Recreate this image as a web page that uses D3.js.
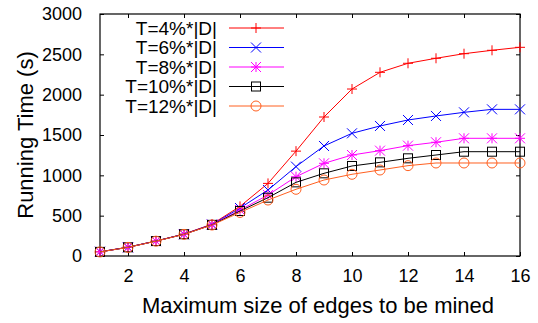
<!DOCTYPE html>
<html>
<head>
<meta charset="utf-8">
<script src="https://cdn.jsdelivr.net/npm/d3@7"></script>
<style>
  body { margin: 0; background: #fff; }
  text { font-family: "Liberation Sans", Arial, sans-serif; fill: #000; }
</style>
</head>
<body>
<div id="chart"></div>
<script>
const sizes = [1, 2, 3, 4, 5, 6, 7, 8, 9, 10, 11, 12, 13, 14, 15, 16];
const t4  = [52, 110, 186, 272, 395, 615, 900, 1300, 1723, 2070, 2277, 2389, 2451, 2508, 2550, 2587];
const t6  = [52, 108, 185, 270, 390, 595, 818, 1108, 1364, 1521, 1612, 1686, 1736, 1781, 1818, 1818];
const t8  = [51, 108, 185, 270, 388, 570, 756, 983, 1149, 1252, 1306, 1368, 1410, 1459, 1459, 1459];
const t10 = [51, 108, 185, 270, 386, 558, 723, 913, 1025, 1116, 1161, 1211, 1252, 1293, 1293, 1293];
const t12 = [50, 107, 184, 268, 384, 540, 694, 827, 942, 1013, 1066, 1120, 1153, 1153, 1153, 1153];
const labels = ["T=4%*|D|", "T=6%*|D|", "T=8%*|D|", "T=10%*|D|", "T=12%*|D|"];
const xTicks = [2, 4, 6, 8, 10, 12, 14, 16];
const yTicks = [0, 500, 1000, 1500, 2000, 2500, 3000];

const series = [
  { label: labels[0], values: t4,  color: "#ff0000", mark: "plus" },
  { label: labels[1], values: t6,  color: "#0000ff", mark: "cross" },
  { label: labels[2], values: t8,  color: "#ff00ff", mark: "star" },
  { label: labels[3], values: t10, color: "#000000", mark: "square" },
  { label: labels[4], values: t12, color: "#ff6020", mark: "circle" }
];

const W = 538, H = 323;
const margin = { top: 14, right: 18, bottom: 67, left: 100 };
const width = W - margin.left - margin.right;
const height = H - margin.top - margin.bottom;

const root = d3.select("#chart").append("svg")
  .attr("width", W).attr("height", H);
const svg = root.append("g")
  .attr("transform", `translate(${margin.left},${margin.top})`);

const x = d3.scaleLinear().domain([1, 16]).range([0, width]);
const y = d3.scaleLinear().domain([0, 3000]).range([height, 0]);

// inward ticks on all four sides
const tk = 4;
svg.append("g").attr("transform", `translate(0,${height})`)
  .call(d3.axisBottom(x).tickValues(xTicks).tickSizeInner(-tk).tickSizeOuter(0).tickPadding(13))
  .call(g => g.select(".domain").remove());
svg.append("g")
  .call(d3.axisTop(x).tickValues(xTicks).tickSizeInner(-tk).tickSizeOuter(0).tickFormat(""))
  .call(g => g.select(".domain").remove());
svg.append("g")
  .call(d3.axisLeft(y).tickValues(yTicks).tickSizeInner(-tk).tickSizeOuter(0).tickPadding(18).tickFormat(d3.format("d")))
  .call(g => g.select(".domain").remove());
svg.append("g").attr("transform", `translate(${width},0)`)
  .call(d3.axisRight(y).tickValues(yTicks).tickSizeInner(-tk).tickSizeOuter(0).tickFormat(""))
  .call(g => g.select(".domain").remove());

svg.selectAll(".tick line").attr("stroke", "#000");
svg.selectAll(".tick text").style("font-size", "18px");

svg.append("rect")
  .attr("width", width).attr("height", height)
  .attr("fill", "none").attr("stroke", "#000").attr("stroke-width", 1.2);

// axis titles
svg.append("text")
  .attr("x", width / 2 + 8).attr("y", height + 57)
  .attr("text-anchor", "middle")
  .style("font-size", "22px")
  .text("Maximum size of edges to be mined");

svg.append("text")
  .attr("transform", "rotate(-90)")
  .attr("x", -height / 2).attr("y", -67)
  .attr("text-anchor", "middle")
  .style("font-size", "22px")
  .text("Running Time (s)");

function drawMark(g, type, color) {
  const s = 5;
  if (type === "plus") {
    g.append("path").attr("d", `M${-s},0H${s}M0,${-s}V${s}`).attr("stroke", color).attr("fill", "none");
  } else if (type === "cross") {
    g.append("path").attr("d", `M${-s},${-s}L${s},${s}M${-s},${s}L${s},${-s}`).attr("stroke", color).attr("fill", "none");
  } else if (type === "star") {
    g.append("path").attr("d", `M${-s},0H${s}M0,${-s}V${s}M${-s},${-s}L${s},${s}M${-s},${s}L${s},${-s}`).attr("stroke", color).attr("fill", "none");
  } else if (type === "square") {
    g.append("rect").attr("x", -4.5).attr("y", -4.5).attr("width", 9).attr("height", 9)
      .attr("stroke", color).attr("fill", "none");
  } else {
    g.append("circle").attr("r", 5).attr("stroke", color).attr("fill", "none");
  }
}

const line = d3.line().x((d, i) => x(sizes[i])).y(d => y(d));

series.forEach(s => {
  svg.append("path")
    .datum(s.values)
    .attr("d", line)
    .attr("fill", "none")
    .attr("stroke", s.color)
    .attr("stroke-width", 1);
  s.values.forEach((v, i) => {
    const g = svg.append("g").attr("transform", `translate(${x(sizes[i])},${y(v)})`);
    drawMark(g, s.mark, s.color);
  });
});

// legend
const legend = svg.append("g");
series.forEach((s, i) => {
  const yy = 14 + i * 19.5;
  legend.append("text")
    .attr("x", 117).attr("y", yy)
    .attr("dy", "0.36em")
    .attr("text-anchor", "end")
    .style("font-size", "19px")
    .text(s.label);
  legend.append("line")
    .attr("x1", 129).attr("x2", 184).attr("y1", yy).attr("y2", yy)
    .attr("stroke", s.color);
  const g = legend.append("g").attr("transform", `translate(156,${yy})`);
  drawMark(g, s.mark, s.color);
});
</script>
</body>
</html>
